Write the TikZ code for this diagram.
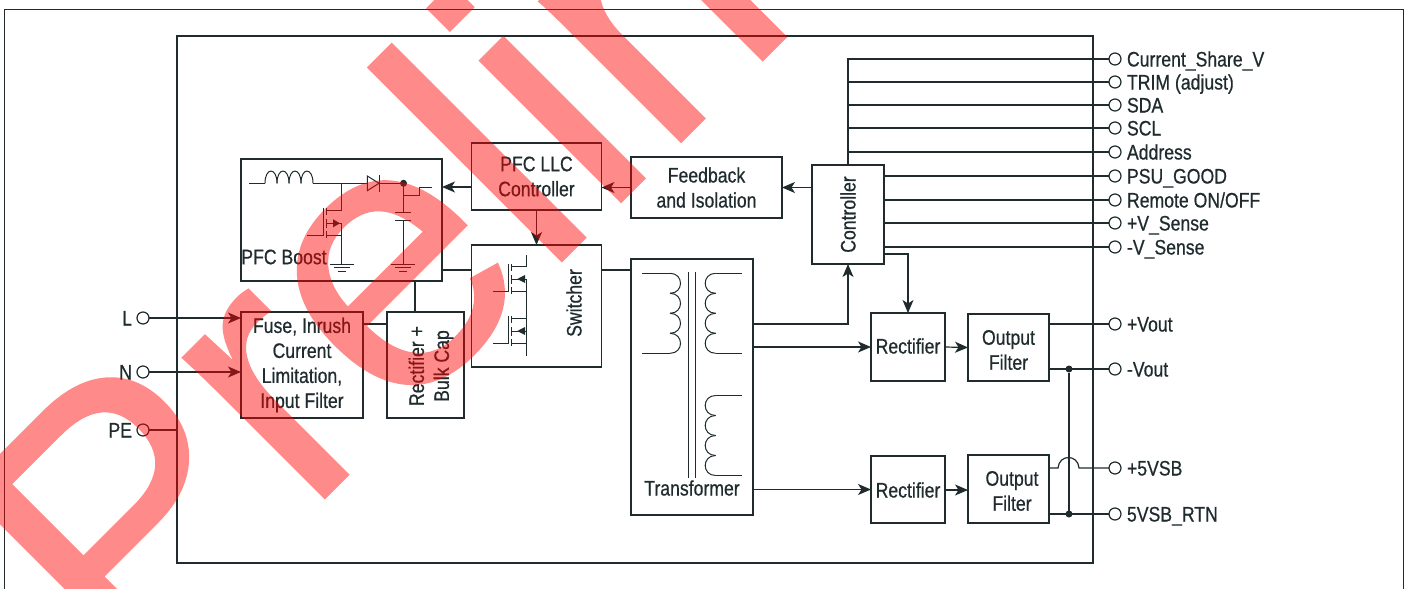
\documentclass[tikz,border=0pt]{standalone}
\usepackage{xcolor}
\usepackage{fontspec}
\setmainfont[FakeStretch=0.84, FakeBold=0.6]{Liberation Sans}
\newfontfamily\stampfont[FakeBold=0.5]{Liberation Sans}
\usetikzlibrary{positioning, arrows.meta}
\definecolor{ink}{HTML}{1F2B2D}

\begin{document}
\begin{tikzpicture}[
        x=1pt, y=-1pt,
        color=ink,
        every node/.style={font=\fontsize{21}{25}\selectfont, inner sep=0pt, outer sep=0pt},
        box/.style={rectangle, draw, line width=1.3pt, align=center},
        wire/.style={line width=1.2pt},
        arrow/.style={wire, -{Stealth[length=13pt, width=11pt, inset=3.5pt]}},
        sym/.style={line width=1pt},
        term/.style={circle, draw, line width=1.2pt, minimum size=12pt, fill=white},
        termtext/.style={text height=15pt, text depth=0pt},
        junction/.style={circle, fill, minimum size=7pt},
        stamp/.style={font=\fontsize{378}{378}\stampfont, anchor=base west, rotate=45, text=red},
        pics/mosfet/.style 2 args={code={
            \draw[sym] (-19,12) -- (-3,12) (-3,-15) -- (-3,13);
            \draw[sym] (0,-15) -- (0,-8) (0,-4) -- (0,5) (0,8) -- (0,15);
            \draw[sym] (0,-13) -- (15,-13) (0,0) -- (15,0) (0,12) -- (15,12);
            \fill (#1,-4) -- (#2,0) -- (#1,4) -- cycle;
        }},
        pics/ground/.style={code={
            \draw[sym] (-12,0) -- (12,0) (-8,3.5) -- (8,3.5) (-4,7) -- (4,7);
        }},
        pics/coil/.style={code={
            \foreach \y in {0,20,40,60}
                \draw[sym] (0,\y) .. controls (14,\y) and (14,\y+20) .. (0,\y+20);
        }},
    ]
        \useasboundingbox (0,0) rectangle (1411,589);

        % Frame
        \draw[line width=1pt] (4,589) -- (4,9) -- (1403,9) -- (1403,589);
        \node[box, line width=2pt, minimum width=916pt, minimum height=527pt] (module) at (635,299.5) {};

        % Blocks
        \node[box, minimum width=201pt, minimum height=122pt] (boost) at (341.5,220) {};
        \node (boosttext) at (284,257) {PFC Boost};
        \node[box, minimum width=130pt, minimum height=67pt] (llc) at (536.5,176.5) {PFC LLC\\Controller};
        \node[box, minimum width=151pt, minimum height=61pt] (feedback) at (706.5,187.5) {Feedback\\and Isolation};
        \node[box, minimum width=72pt, minimum height=99pt] (controller) at (848,214.5) {};
        \node[rotate=90] (controllertext) at (848,214.5) {Controller};
        \node[box, minimum width=130pt, minimum height=122pt] (switcher) at (536.5,306) {};
        \node[rotate=90] (switchertext) at (574,303) {Switcher};
        \node[box, minimum width=122pt, minimum height=106pt] (fuse) at (302,365) {Fuse, Inrush\\Current\\Limitation,\\Input Filter};
        \node[box, minimum width=77pt, minimum height=106pt] (bulk) at (425.5,365) {};
        \node[rotate=90, align=center] (bulktext) at (431,366) {Rectifier +\\Bulk Cap};
        \node[box, minimum width=122pt, minimum height=256pt] (transformer) at (692,387) {};
        \node (transformertext) at (692,488) {Transformer};
        \node[box, minimum width=74pt, minimum height=68pt] (recta) at (908,347) {};
        \node (rectatext) at (908,346) {Rectifier};
        \node[box, minimum width=81pt, minimum height=67pt] (filtera) at (1008.5,347.5) {};
        \node[align=center] (filteratext) at (1008.5,350) {Output\\Filter};
        \node[box, minimum width=74pt, minimum height=67pt] (rectb) at (908,489.5) {};
        \node (rectbtext) at (908,490) {Rectifier};
        \node[box, minimum width=81pt, minimum height=68pt] (filterb) at (1008.5,489) {};
        \node[align=center] (filterbtext) at (1012,491) {Output\\Filter};

        % Terminals
        \foreach \name/\y/\txt in {share/59/Current\_Share\_V, trim/82/TRIM (adjust), sda/105/SDA, scl/128/SCL,
                address/152/Address, good/176/PSU\_GOOD, remote/200/{Remote ON/OFF}, vsp/223/+V\_Sense, vsn/247/-V\_Sense,
                vop/324/+Vout, von/369/-Vout, sbp/468/+5VSB, sbn/514/5VSB\_RTN} {
            \node[term] (\name) at (1115,\y) {};
            \node[termtext, right=6pt of \name] (\name text) {\txt};
        }
        \foreach \name/\y/\txt in {line/318/L, neutral/372/N, earth/430/PE} {
            \node[term] (\name) at (143,\y) {};
            \node[termtext, left=5pt of \name] (\name text) {\txt};
        }

        % Connections
        \draw[arrow] (line) -- (fuse.west |- line);
        \draw[arrow] (neutral) -- (fuse.west |- neutral);
        \draw[wire] (earth) -- (module.west |- earth);
        \draw[arrow] (llc.west |- 0,187) -- (boost.east |- 0,187);
        \draw[arrow] (feedback.west) -- (llc.east |- feedback.west);
        \draw[arrow] (controller.west |- feedback.east) -- (feedback.east);
        \draw[arrow] (llc.south) -- (switcher.north);
        \draw[wire] (boost.east |- 0,270) -- (switcher.west |- 0,270);
        \draw[wire] (switcher.east |- 0,270) -- (transformer.west |- 0,270);
        \draw[wire] (boost.south -| 415,0) -- (bulk.north -| 415,0);
        \draw[wire] (fuse.east |- 0,324) -- (bulk.west |- 0,324);
        \draw[wire] (controller.north) -- (controller.north |- share) -- (share);
        \foreach \name in {trim, sda, scl, address}
            \draw[wire] (controller.north |- \name) -- (\name);
        \foreach \name in {good, remote, vsp, vsn}
            \draw[wire] (controller.east |- \name) -- (\name);
        \draw[arrow] (controller.east |- 0,254) -- (recta.north |- 0,254) -- (recta.north);
        \draw[arrow] (transformer.east |- vop) -- (controller.south |- vop) -- (controller.south);
        \draw[arrow] (transformer.east |- recta.west) -- (recta.west);
        \draw[arrow] (transformer.east |- rectb.west) -- (rectb.west);
        \draw[arrow] (recta.east) -- (filtera.west);
        \draw[arrow] (rectb.east |- 0,490) -- (filterb.west |- 0,490);
        \draw[wire] (filtera.east |- vop) -- (vop);
        \draw[wire] (filtera.east |- von) -- (von);
        \draw[wire] (filterb.east |- sbn) -- (sbn);
        \node[junction] (joina) at (1069,369) {};
        \node[junction] (joinb) at (1069,514) {};
        \draw[wire] (joina) -- (joinb);
        \coordinate (hopin) at (1058,468);
        \coordinate (hopout) at (1079,468);
        \draw[wire] (filterb.east |- sbp) -- (hopin) .. controls +(1,-14) and +(-1,-14) .. (hopout) -- (sbp);

        % PFC boost symbols
        \draw[sym] (249,183.3) -- (265,183.3);
        \foreach \x in {265,277,289,301}
            \draw[sym] (\x,183.3) .. controls (\x,167) and (\x+12,167) .. (\x+12,183.3);
        \draw[sym] (313,183.3) -- (403.3,183.3);
        \draw[sym, fill=white] (367.3,176) -- (379,183.3) -- (367.3,190.7) -- cycle;
        \draw[sym] (379,175) -- (379,191.7);
        \node[junction] (boostdot) at (403.5,183.3) {};
        \draw[sym] (341.7,183.3) -- (341.7,211);
        \pic at (326,223.3) {mosfet={7}{14}};
        \draw[sym] (341.7,223.3) -- (341.7,264);
        \pic at (341.7,264) {ground};
        \draw[sym] (403.3,183.3) -- (403.3,212.3) (395.3,212.3) -- (411.3,212.3);
        \draw[sym] (395.3,220) -- (411.3,220) (403.3,220) -- (403.3,264);
        \pic at (403.3,264) {ground};
        \draw[sym] (403.3,195.7) -- (419,195.7) -- (419,187.7) -- (431.7,187.7);

        % Switcher symbols
        \pic at (511.7,279) {mosfet={13.3}{5.6}};
        \pic at (511.7,331) {mosfet={13.3}{5.6}};
        \draw[sym] (526.7,255) -- (526.7,266) (526.7,279) -- (526.7,356);

        % Transformer symbols
        \draw[sym] (642,273.3) -- (670,273.3) (642,353.3) -- (670,353.3);
        \pic at (670,273.3) {coil};
        \draw[sym] (688,272) -- (688,478) (695,272) -- (695,478);
        \draw[sym] (741.7,273.3) -- (715.7,273.3) (741.7,353.3) -- (715.7,353.3);
        \pic[xscale=-1] at (715.7,273.3) {coil};
        \draw[sym] (741.7,395.5) -- (715.7,395.5) (741.7,475.5) -- (715.7,475.5);
        \pic[xscale=-1] at (715.7,395.5) {coil};

        % Watermark
        \begin{scope}[transparency group, opacity=.46]
            \node[stamp] (watermark) at (128,695) {Preliminary};
        \end{scope}
    \end{tikzpicture}
\end{document}
